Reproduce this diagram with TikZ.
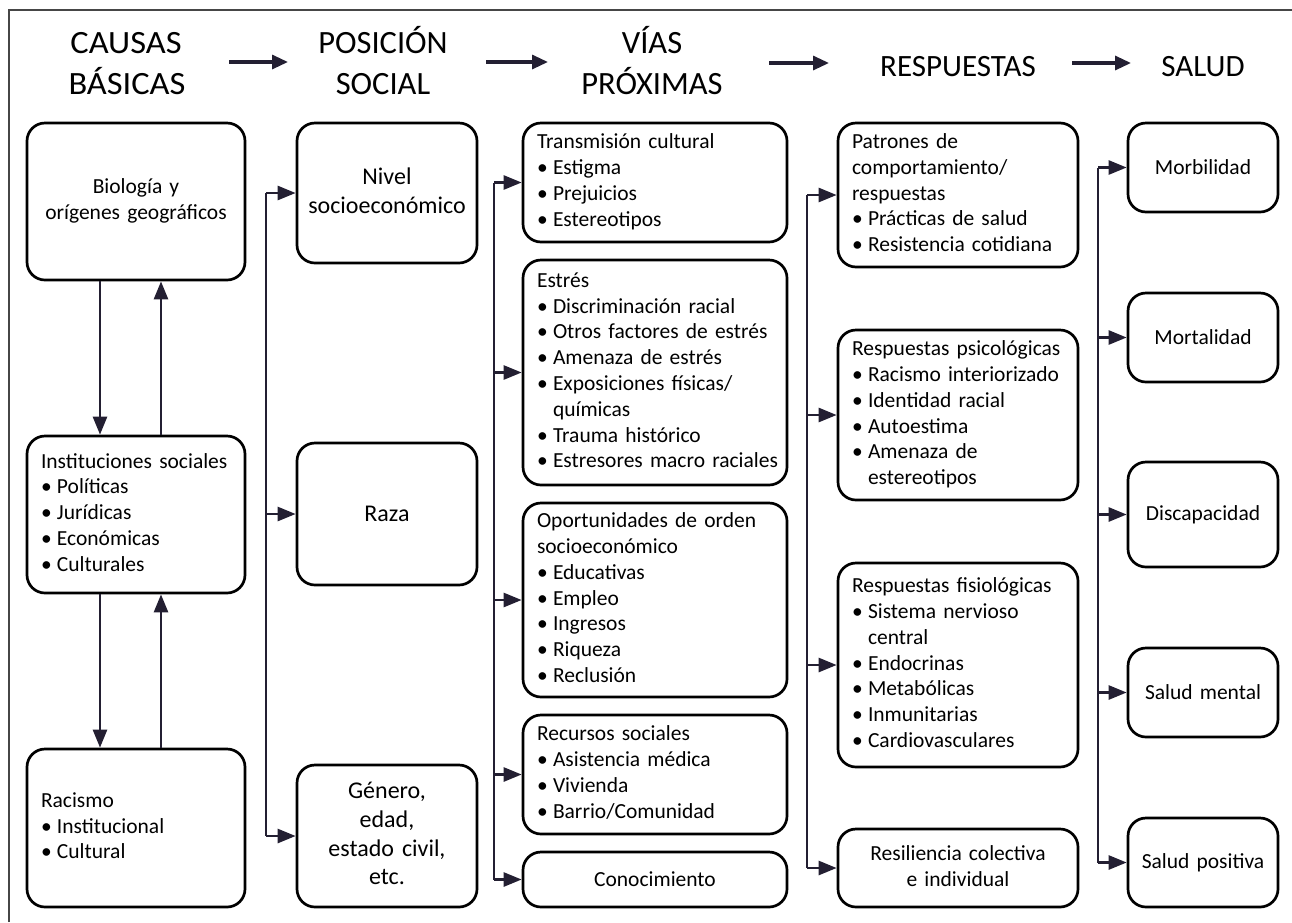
\documentclass[tikz,border=0pt]{standalone}
\usepackage{fontspec}
\setmainfont{Carlito}
\usetikzlibrary{arrows.meta}
\definecolor{conncol}{RGB}{35,31,50}
\definecolor{framecol}{RGB}{70,70,70}
\newcommand{\bfs}{\fontsize{21.5}{25.8}\selectfont}
\newcommand{\cfs}{\fontsize{24}{28.8}\selectfont}
\newcommand{\hfs}{\fontsize{31}{37}\selectfont}
\newcommand{\hbfs}{\fontsize{32.5}{40}\selectfont}
\newcommand{\bul}{\makebox[16pt][l]{\textbullet}}
\newcommand{\hang}{\hspace*{16pt}}
\begin{document}
\begin{tikzpicture}[x=1pt,y=-1pt,
  bx/.style={draw=black, line width=2.7pt, rounded corners=18pt, inner ysep=0pt, font=\bfs},
  lbox/.style={bx, inner xsep=14pt, align=left},
  cbox/.style={bx, inner xsep=0pt, align=center},
  head/.style={font=\hfs, anchor=base, inner sep=0pt},
  bighead/.style={head, font=\hbfs},
  conn/.style={draw=conncol, line width=2.6pt},
  arr/.style={conn, -{Triangle[length=18pt,width=14pt]}},
  harr/.style={draw=conncol, line width=3.2pt, -{Triangle[length=16pt,width=14pt]}}
]
\useasboundingbox (0,0) rectangle (1292,922);
\draw[draw=framecol, line width=1.6pt] (9,922) -- (9,10) -- (1292,10);

% headings
\node[bighead] (h1a) at (126,53) {\scalebox{1.06}[1]{CAUSAS}};
\node[bighead] (h1b) at (127,94) {\scalebox{1.06}[1]{BÁSICAS}};
\node[bighead] (h2a) at (383,53) {POSICIÓN};
\node[bighead] (h2b) at (383,94) {SOCIAL};
\node[bighead] (h3a) at (652,53) {VÍAS};
\node[bighead] (h3b) at (652,94) {PRÓXIMAS};
\node[head] (h4) at (958,76) {RESPUESTAS};
\node[head] (h5) at (1203,76) {SALUD};
\coordinate (a1s) at (229,62); \coordinate (a1e) at (288,62);
\coordinate (a2s) at (486,62); \coordinate (a2e) at (548,62);
\coordinate (a3s) at (769,63); \coordinate (a3e) at (829,63);
\coordinate (a4s) at (1072,63); \coordinate (a4e) at (1131,63);
\draw[harr] (a1s) -- (a1e);
\draw[harr] (a2s) -- (a2e);
\draw[harr] (a3s) -- (a3e);
\draw[harr] (a4s) -- (a4e);

% column 1
\node[cbox, text width=218pt, minimum height=157pt] (bio) at (136,201.5)
  {\begin{tabular}{@{}c@{}}Biología y\\orígenes geográficos\end{tabular}};
\node[lbox, text width=190pt, minimum height=157pt] (inst) at (136,514.5)
  {\begin{tabular}{@{}l@{}}Instituciones sociales\\\bul Políticas\\\bul Jurídicas\\\bul Económicas\\\bul Culturales\end{tabular}};
\node[lbox, text width=190pt, minimum height=158pt] (rac) at (136,828)
  {\begin{tabular}{@{}l@{}}Racismo\\\bul Institucional\\\bul Cultural\end{tabular}};
\coordinate (c1a) at (100,0);
\coordinate (c1b) at (161,0);
\draw[arr] (c1a |- bio.south) -- (c1a |- inst.north);
\draw[arr] (c1b |- inst.north) -- (c1b |- bio.south);
\draw[arr] (c1a |- inst.south) -- (c1a |- rac.north);
\draw[arr] (c1b |- rac.north) -- (c1b |- inst.south);

% column 2
\node[cbox, font=\cfs, text width=180pt, minimum height=140pt] (nse) at (387,193)
  {\begin{tabular}{@{}c@{}}Nivel\\socioeconómico\end{tabular}};
\node[cbox, font=\cfs, text width=180pt, minimum height=142pt] (raza) at (387,514) {Raza};
\node[cbox, font=\cfs, text width=180pt, minimum height=142pt] (gen) at (387,836)
  {\begin{tabular}{@{}c@{}}Género,\\edad,\\estado civil,\\etc.\end{tabular}};
\coordinate (v2) at (266,0);
\draw[conn] (v2 |- nse.west) -- (v2 |- gen.west);
\draw[arr] (v2 |- nse.west) -- (nse.west);
\draw[arr] (v2 |- raza.west) -- (raza.west);
\draw[arr] (v2 |- gen.west) -- (gen.west);

% column 3
\node[lbox, text width=236pt, minimum height=119pt] (tb) at (655,182.5)
  {\begin{tabular}{@{}l@{}}Transmisión cultural\\\bul Estigma\\\bul Prejuicios\\\bul Estereotipos\end{tabular}};
\node[lbox, text width=236pt, minimum height=225pt] (es) at (655,372.5)
  {\begin{tabular}{@{}l@{}}Estrés\\\bul Discriminación racial\\\bul Otros factores de estrés\\\bul Amenaza de estrés\\\bul Exposiciones físicas/\\\hang químicas\\\bul Trauma histórico\\\bul Estresores macro raciales\end{tabular}};
\node[lbox, text width=236pt, minimum height=194pt] (op) at (655,600)
  {\begin{tabular}{@{}l@{}}Oportunidades de orden\\socioeconómico\\\bul Educativas\\\bul Empleo\\\bul Ingresos\\\bul Riqueza\\\bul Reclusión\end{tabular}};
\node[lbox, text width=236pt, minimum height=119pt] (rs) at (655,774.5)
  {\begin{tabular}{@{}l@{}}Recursos sociales\\\bul Asistencia médica\\\bul Vivienda\\\bul Barrio/Comunidad\end{tabular}};
\node[cbox, text width=264pt, minimum height=55pt] (kn) at (655,879.5) {Conocimiento};
\coordinate (v3) at (494,0);
\draw[conn] (v3 |- tb.west) -- (v3 |- kn.west);
\draw[arr] (v3 |- tb.west) -- (tb.west);
\draw[arr] (v3 |- es.west) -- (es.west);
\draw[arr] (v3 |- op.west) -- (op.west);
\draw[arr] (v3 |- rs.west) -- (rs.west);
\draw[arr] (v3 |- kn.west) -- (kn.west);

% column 4
\node[lbox, text width=212pt, minimum height=144pt] (pc) at (958,195)
  {\begin{tabular}{@{}l@{}}Patrones de\\comportamiento/\\respuestas\\\bul Prácticas de salud\\\bul Resistencia cotidiana\end{tabular}};
\node[lbox, text width=212pt, minimum height=170pt] (ps) at (958,415)
  {\begin{tabular}{@{}l@{}}Respuestas psicológicas\\\bul Racismo interiorizado\\\bul Identidad racial\\\bul Autoestima\\\bul Amenaza de\\\hang estereotipos\end{tabular}};
\node[lbox, text width=212pt, minimum height=204pt] (pf) at (958,665)
  {\begin{tabular}{@{}l@{}}Respuestas fisiológicas\\\bul Sistema nervioso\\\hang central\\\bul Endocrinas\\\bul Metabólicas\\\bul Inmunitarias\\\bul Cardiovasculares\end{tabular}};
\node[cbox, text width=240pt, minimum height=78pt] (rc) at (958,868)
  {\begin{tabular}{@{}c@{}}Resiliencia colectiva\\e individual\end{tabular}};
\coordinate (v4) at (807,0);
\draw[conn] (v4 |- pc.west) -- (v4 |- rc.west);
\draw[arr] (v4 |- pc.west) -- (pc.west);
\draw[arr] (v4 |- ps.west) -- (ps.west);
\draw[arr] (v4 |- pf.west) -- (pf.west);
\draw[arr] (v4 |- rc.west) -- (rc.west);

% column 5
\node[cbox, text width=150pt, minimum height=89pt] (mb) at (1203,167.5) {Morbilidad};
\node[cbox, text width=150pt, minimum height=89pt] (mt) at (1203,337.5) {Mortalidad};
\node[cbox, text width=150pt, minimum height=105pt] (dc) at (1203,514.5) {Discapacidad};
\node[cbox, text width=150pt, minimum height=89pt] (sm) at (1203,692.5) {Salud mental};
\node[cbox, text width=150pt, minimum height=89pt] (sp) at (1203,862.5) {Salud positiva};
\coordinate (v5) at (1098,0);
\draw[conn] (v5 |- mb.west) -- (v5 |- sp.west);
\draw[arr] (v5 |- mb.west) -- (mb.west);
\draw[arr] (v5 |- mt.west) -- (mt.west);
\draw[arr] (v5 |- dc.west) -- (dc.west);
\draw[arr] (v5 |- sm.west) -- (sm.west);
\draw[arr] (v5 |- sp.west) -- (sp.west);
\end{tikzpicture}
\end{document}
